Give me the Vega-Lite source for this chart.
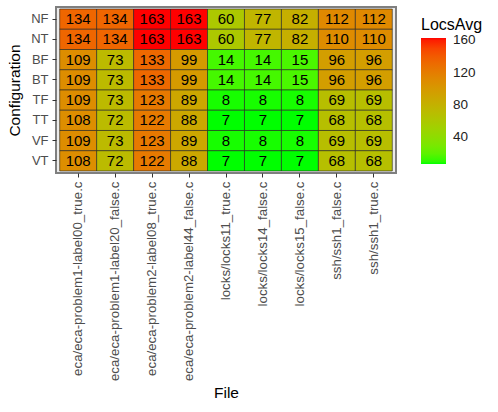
{
  "$schema": "https://vega.github.io/schema/vega-lite/v6.json",
  "autosize": "none",
  "padding": {"left": 56, "top": 7, "right": 102, "bottom": 239},
  "width": 340,
  "height": 166,
  "background": "white",
  "config": {
    "font": "Liberation Sans",
    "view": {"stroke": "#7f7f7f", "strokeWidth": 2, "fill": "#ebebeb"}
  },
  "data": {
    "values": [
      {"Configuration": "NF", "File": "eca/eca-problem1-label00_true.c", "LocsAvg": 134},
      {"Configuration": "NF", "File": "eca/eca-problem1-label20_false.c", "LocsAvg": 134},
      {"Configuration": "NF", "File": "eca/eca-problem2-label08_true.c", "LocsAvg": 163},
      {"Configuration": "NF", "File": "eca/eca-problem2-label44_false.c", "LocsAvg": 163},
      {"Configuration": "NF", "File": "locks/locks11_true.c", "LocsAvg": 60},
      {"Configuration": "NF", "File": "locks/locks14_false.c", "LocsAvg": 77},
      {"Configuration": "NF", "File": "locks/locks15_false.c", "LocsAvg": 82},
      {"Configuration": "NF", "File": "ssh/ssh1_false.c", "LocsAvg": 112},
      {"Configuration": "NF", "File": "ssh/ssh1_true.c", "LocsAvg": 112},
      {"Configuration": "NT", "File": "eca/eca-problem1-label00_true.c", "LocsAvg": 134},
      {"Configuration": "NT", "File": "eca/eca-problem1-label20_false.c", "LocsAvg": 134},
      {"Configuration": "NT", "File": "eca/eca-problem2-label08_true.c", "LocsAvg": 163},
      {"Configuration": "NT", "File": "eca/eca-problem2-label44_false.c", "LocsAvg": 163},
      {"Configuration": "NT", "File": "locks/locks11_true.c", "LocsAvg": 60},
      {"Configuration": "NT", "File": "locks/locks14_false.c", "LocsAvg": 77},
      {"Configuration": "NT", "File": "locks/locks15_false.c", "LocsAvg": 82},
      {"Configuration": "NT", "File": "ssh/ssh1_false.c", "LocsAvg": 110},
      {"Configuration": "NT", "File": "ssh/ssh1_true.c", "LocsAvg": 110},
      {"Configuration": "BF", "File": "eca/eca-problem1-label00_true.c", "LocsAvg": 109},
      {"Configuration": "BF", "File": "eca/eca-problem1-label20_false.c", "LocsAvg": 73},
      {"Configuration": "BF", "File": "eca/eca-problem2-label08_true.c", "LocsAvg": 133},
      {"Configuration": "BF", "File": "eca/eca-problem2-label44_false.c", "LocsAvg": 99},
      {"Configuration": "BF", "File": "locks/locks11_true.c", "LocsAvg": 14},
      {"Configuration": "BF", "File": "locks/locks14_false.c", "LocsAvg": 14},
      {"Configuration": "BF", "File": "locks/locks15_false.c", "LocsAvg": 15},
      {"Configuration": "BF", "File": "ssh/ssh1_false.c", "LocsAvg": 96},
      {"Configuration": "BF", "File": "ssh/ssh1_true.c", "LocsAvg": 96},
      {"Configuration": "BT", "File": "eca/eca-problem1-label00_true.c", "LocsAvg": 109},
      {"Configuration": "BT", "File": "eca/eca-problem1-label20_false.c", "LocsAvg": 73},
      {"Configuration": "BT", "File": "eca/eca-problem2-label08_true.c", "LocsAvg": 133},
      {"Configuration": "BT", "File": "eca/eca-problem2-label44_false.c", "LocsAvg": 99},
      {"Configuration": "BT", "File": "locks/locks11_true.c", "LocsAvg": 14},
      {"Configuration": "BT", "File": "locks/locks14_false.c", "LocsAvg": 14},
      {"Configuration": "BT", "File": "locks/locks15_false.c", "LocsAvg": 15},
      {"Configuration": "BT", "File": "ssh/ssh1_false.c", "LocsAvg": 96},
      {"Configuration": "BT", "File": "ssh/ssh1_true.c", "LocsAvg": 96},
      {"Configuration": "TF", "File": "eca/eca-problem1-label00_true.c", "LocsAvg": 109},
      {"Configuration": "TF", "File": "eca/eca-problem1-label20_false.c", "LocsAvg": 73},
      {"Configuration": "TF", "File": "eca/eca-problem2-label08_true.c", "LocsAvg": 123},
      {"Configuration": "TF", "File": "eca/eca-problem2-label44_false.c", "LocsAvg": 89},
      {"Configuration": "TF", "File": "locks/locks11_true.c", "LocsAvg": 8},
      {"Configuration": "TF", "File": "locks/locks14_false.c", "LocsAvg": 8},
      {"Configuration": "TF", "File": "locks/locks15_false.c", "LocsAvg": 8},
      {"Configuration": "TF", "File": "ssh/ssh1_false.c", "LocsAvg": 69},
      {"Configuration": "TF", "File": "ssh/ssh1_true.c", "LocsAvg": 69},
      {"Configuration": "TT", "File": "eca/eca-problem1-label00_true.c", "LocsAvg": 108},
      {"Configuration": "TT", "File": "eca/eca-problem1-label20_false.c", "LocsAvg": 72},
      {"Configuration": "TT", "File": "eca/eca-problem2-label08_true.c", "LocsAvg": 122},
      {"Configuration": "TT", "File": "eca/eca-problem2-label44_false.c", "LocsAvg": 88},
      {"Configuration": "TT", "File": "locks/locks11_true.c", "LocsAvg": 7},
      {"Configuration": "TT", "File": "locks/locks14_false.c", "LocsAvg": 7},
      {"Configuration": "TT", "File": "locks/locks15_false.c", "LocsAvg": 7},
      {"Configuration": "TT", "File": "ssh/ssh1_false.c", "LocsAvg": 68},
      {"Configuration": "TT", "File": "ssh/ssh1_true.c", "LocsAvg": 68},
      {"Configuration": "VF", "File": "eca/eca-problem1-label00_true.c", "LocsAvg": 109},
      {"Configuration": "VF", "File": "eca/eca-problem1-label20_false.c", "LocsAvg": 73},
      {"Configuration": "VF", "File": "eca/eca-problem2-label08_true.c", "LocsAvg": 123},
      {"Configuration": "VF", "File": "eca/eca-problem2-label44_false.c", "LocsAvg": 89},
      {"Configuration": "VF", "File": "locks/locks11_true.c", "LocsAvg": 8},
      {"Configuration": "VF", "File": "locks/locks14_false.c", "LocsAvg": 8},
      {"Configuration": "VF", "File": "locks/locks15_false.c", "LocsAvg": 8},
      {"Configuration": "VF", "File": "ssh/ssh1_false.c", "LocsAvg": 69},
      {"Configuration": "VF", "File": "ssh/ssh1_true.c", "LocsAvg": 69},
      {"Configuration": "VT", "File": "eca/eca-problem1-label00_true.c", "LocsAvg": 108},
      {"Configuration": "VT", "File": "eca/eca-problem1-label20_false.c", "LocsAvg": 72},
      {"Configuration": "VT", "File": "eca/eca-problem2-label08_true.c", "LocsAvg": 122},
      {"Configuration": "VT", "File": "eca/eca-problem2-label44_false.c", "LocsAvg": 88},
      {"Configuration": "VT", "File": "locks/locks11_true.c", "LocsAvg": 7},
      {"Configuration": "VT", "File": "locks/locks14_false.c", "LocsAvg": 7},
      {"Configuration": "VT", "File": "locks/locks15_false.c", "LocsAvg": 7},
      {"Configuration": "VT", "File": "ssh/ssh1_false.c", "LocsAvg": 68},
      {"Configuration": "VT", "File": "ssh/ssh1_true.c", "LocsAvg": 68}
    ]
  },
  "encoding": {
    "x": {
      "field": "File", "type": "nominal", "sort": null,
      "scale": {"paddingInner": 0, "paddingOuter": 0.1},
      "axis": {
        "title": "File", "titleFontSize": 15.5, "titleFontWeight": "normal", "titleColor": "black", "titlePadding": 12,
        "labelAngle": -90, "labelAlign": "right", "labelBaseline": "middle", "labelFontSize": 13.3, "labelColor": "#4d4d4d",
        "labelPadding": 4, "labelLimit": 400, "tickSize": 4, "tickColor": "#333333", "domain": false, "grid": false
      }
    },
    "y": {
      "field": "Configuration", "type": "nominal",
      "sort": ["NF", "NT", "BF", "BT", "TF", "TT", "VF", "VT"],
      "scale": {"paddingInner": 0, "paddingOuter": 0.1},
      "axis": {
        "title": "Configuration", "titleFontSize": 15.5, "titleFontWeight": "normal", "titleColor": "black", "titlePadding": 8,
        "labelFontSize": 13, "labelColor": "#4d4d4d", "labelPadding": 4, "tickSize": 4, "tickColor": "#333333",
        "domain": false, "grid": false
      }
    }
  },
  "layer": [
    {
      "mark": {"type": "rect", "stroke": "#222222", "strokeWidth": 0.6},
      "encoding": {
        "color": {
          "field": "LocsAvg", "type": "quantitative",
          "scale": {"range": ["#00ff00", "#ff0000"], "interpolate": "lab", "zero": false},
          "legend": {
            "orient": "none", "legendX": 365, "legendY": 10,
            "title": "LocsAvg", "titleFontSize": 16, "titleFontWeight": "normal", "titleColor": "black",
            "labelFontSize": 13.5, "labelColor": "#222222", "values": [40, 80, 120, 160],
            "gradientLength": 126, "gradientThickness": 25, "padding": 0,
            "titlePadding": 5, "labelOffset": 7
          }
        }
      }
    },
    {
      "mark": {"type": "text", "fontSize": 15, "color": "black"},
      "encoding": {"text": {"field": "LocsAvg", "type": "quantitative"}}
    }
  ]
}
